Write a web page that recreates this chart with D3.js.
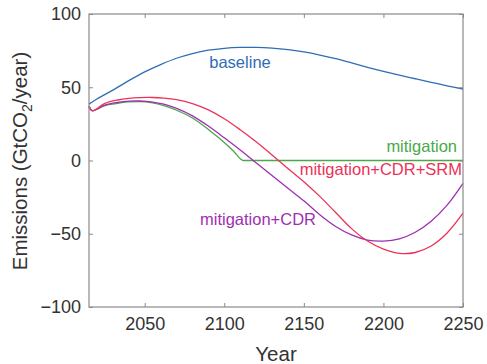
<!DOCTYPE html>
<html><head><meta charset="utf-8">
<script src="https://cdn.jsdelivr.net/npm/d3@7"></script>
<style>body{margin:0;background:#fff}svg{display:block}text{font-family:"Liberation Sans",Arial,sans-serif}</style>
</head><body><svg id="c" width="487" height="364"></svg>
<script>
const baselineYears = [2015,2020,2030,2040,2050,2060,2070,2080,2090,2100,2110,2120,2130,2140,2150,2160,2170,2180,2190,2200,2210,2220,2230,2240,2250];
const baselineVals  = [38.5,42,48,54.5,60.5,65.5,69.8,73,75.3,76.6,77.2,77.2,76.7,75.7,74.1,72,69.5,66.6,63.6,60.8,58.2,55.8,53.4,51,48.8];

const mitigationYears = [2015,2017,2025,2033,2040,2047,2055,2062,2070,2080,2090,2100,2106,2112,2150,2200,2250];
const mitigationVals  = [37,34,37.5,39,40,40.2,39.3,37.4,34.3,29,21.2,12.3,6.2,0,0,0,0];

const cdrYears = [2015,2017,2025,2033,2040,2047,2055,2062,2070,2080,2090,2100,2110,2120,2130,2140,2150,2160,2170,2180,2190,2200,2210,2220,2230,2240,2250];
const cdrVals  = [37,34,37.8,39.6,40.5,40.6,39.9,38.4,35.6,30.5,23.5,15.5,7.2,-1.5,-10.3,-19,-27.5,-37,-45,-50.8,-54.3,-55,-53.5,-49,-41.5,-30.5,-15.6];

const srmYears = [2015,2017,2025,2033,2040,2047,2055,2062,2070,2080,2090,2100,2110,2120,2130,2140,2150,2160,2170,2180,2190,2200,2210,2220,2230,2240,2250];
const srmVals  = [37,34,39,41.3,42.4,42.9,43,42.6,41.5,38.8,34.5,28.5,21,12.8,3.8,-5.5,-14.5,-24.5,-35.5,-46.5,-55,-60.5,-63.4,-62.8,-58.4,-49.5,-36];

const xTicks = [2050,2100,2150,2200,2250];
const yTicks = [-100,-50,0,50,100];
const seriesNames = ["baseline","mitigation","mitigation+CDR+SRM","mitigation+CDR"];
const seriesColors = ["#2f6db5","#4aa84a","#ec3259","#9e2fb0"];

const svg = d3.select("#c");
const L=89, R=463, T=14, B=307;
const x = d3.scaleLinear().domain([2015,2250]).range([L,R]);
const y = d3.scaleLinear().domain([-100,100]).range([B,T]);

const toPts = (ys, vs) => ys.map((yr,i)=>[yr,vs[i]]);
const smooth = d3.curveCatmullRom.alpha(0.5);
const series = [
  {name:seriesNames[0], color:seriesColors[0], pts:toPts(baselineYears,baselineVals), curve:smooth, lx:240, ly:68, anchor:"middle"},
  {name:seriesNames[1], color:seriesColors[1], pts:toPts(mitigationYears,mitigationVals), curve:d3.curveMonotoneX, lx:457, ly:152, anchor:"end"},
  {name:seriesNames[2], color:seriesColors[2], pts:toPts(srmYears,srmVals), curve:smooth, lx:462, ly:175, anchor:"end"},
  {name:seriesNames[3], color:seriesColors[3], pts:toPts(cdrYears,cdrVals), curve:smooth, lx:200, ly:225, anchor:"start"}
];

const axisCol = "#8a8a8a", textCol = "#333";
const g = svg.append("g");

[series[0],series[1],series[3],series[2]].forEach(s=>{
  const line = d3.line().x(d=>x(d[0])).y(d=>y(d[1])).curve(s.curve);
  g.append("path").attr("d",line(s.pts)).attr("fill","none")
   .attr("stroke",s.color).attr("stroke-width",1.3);
});

const xb = d3.axisBottom(x).tickValues(xTicks).tickSize(-4).tickPadding(10).tickFormat(d3.format("d"));
const xt = d3.axisTop(x).tickValues(xTicks).tickSize(-4).tickFormat("");
const yl = d3.axisLeft(y).tickValues(yTicks).tickSize(-4).tickPadding(8);
const yr = d3.axisRight(y).tickValues(yTicks).tickSize(-4).tickFormat("");
function style(sel){
  sel.selectAll("path.domain").attr("stroke",axisCol).attr("stroke-width",1.2);
  sel.selectAll(".tick line").attr("stroke",axisCol);
  sel.selectAll("text").attr("fill",textCol).attr("font-size",18)
    .style("font-family",'"Liberation Sans",Arial,sans-serif');
}
svg.append("g").attr("transform",`translate(0,${B})`).call(xb).call(style);
svg.append("g").attr("transform",`translate(0,${T})`).call(xt).call(style);
svg.append("g").attr("transform",`translate(${L},0)`).call(yl).call(style);
svg.append("g").attr("transform",`translate(${R},0)`).call(yr).call(style);
svg.selectAll("path.domain").attr("d",null);
svg.append("rect").attr("x",L).attr("y",T).attr("width",R-L).attr("height",B-T)
  .attr("fill","none").attr("stroke",axisCol).attr("stroke-width",1.2);

series.forEach(s=>{
  svg.append("text").attr("x",s.lx).attr("y",s.ly).attr("text-anchor",s.anchor)
    .attr("font-size",16.5).attr("fill",s.color).text(s.name);
});

svg.append("text").attr("x",(L+R)/2).attr("y",361).attr("text-anchor","middle")
  .attr("font-size",20.5).attr("fill",textCol).text("Year");

const yt = svg.append("text").attr("transform","translate(27,161) rotate(-90)")
  .attr("text-anchor","middle").attr("font-size",20.5).attr("fill",textCol);
yt.append("tspan").text("Emissions (GtCO");
yt.append("tspan").attr("font-size",14).attr("dy",5).text("2");
yt.append("tspan").attr("dy",-5).text("/year)");
</script></body></html>
